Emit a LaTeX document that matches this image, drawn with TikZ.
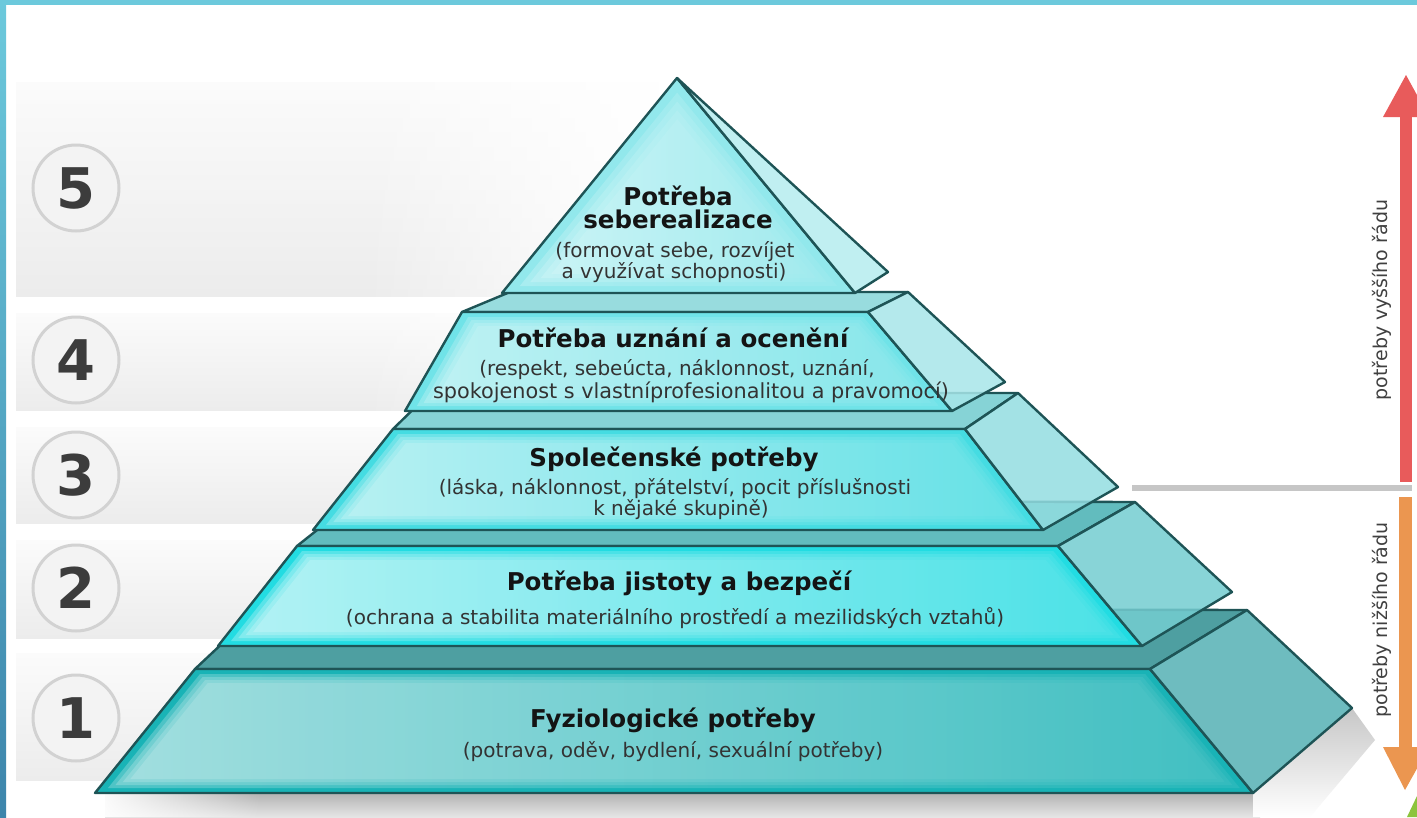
\documentclass[tikz,border=0pt]{standalone}
\usepackage{fontspec}
\setmainfont{DejaVu Sans}
\usetikzlibrary{fadings}
\definecolor{edgec}{HTML}{1E5456}
\definecolor{bandtop}{HTML}{FBFBFB}
\definecolor{bandbot}{HTML}{ECECEC}
\definecolor{circgray}{HTML}{D2D2D2}
\definecolor{circfill}{HTML}{F3F3F3}
\definecolor{numgray}{HTML}{3C3C3C}
\definecolor{bluebar}{HTML}{6CC9DC}
\definecolor{bluedark}{HTML}{3D85AB}
\definecolor{redarrow}{HTML}{E85B5B}
\definecolor{orarrow}{HTML}{EB9650}
\definecolor{sepgray}{HTML}{C6C6C6}
\definecolor{greenc}{HTML}{8CC43C}
\definecolor{baseA}{HTML}{19B3B6}\definecolor{glowA}{HTML}{CDEDED}\definecolor{topA}{HTML}{4E9FA1}\definecolor{sideA}{HTML}{5FB5B9}
\definecolor{baseB}{HTML}{22DCE2}\definecolor{glowB}{HTML}{E0FAFB}\definecolor{topB}{HTML}{62BCBE}\definecolor{sideB}{HTML}{74CDD1}
\definecolor{baseC}{HTML}{45DCE2}\definecolor{glowC}{HTML}{DCF8F9}\definecolor{topC}{HTML}{86D3D6}\definecolor{sideC}{HTML}{93DDE1}
\definecolor{baseD}{HTML}{70E3E8}\definecolor{glowD}{HTML}{D8F7F8}\definecolor{topD}{HTML}{98DCDE}\definecolor{sideD}{HTML}{A8E6E9}
\definecolor{baseE}{HTML}{92E8EC}\definecolor{glowE}{HTML}{DDF9FA}\definecolor{sideE}{HTML}{B5EDEF}
\tikzset{
  edge/.style={draw=edgec,line width=2.4pt,line join=round},
  numc/.style={circle,minimum size=86pt,draw=circgray,line width=3pt,fill=circfill,
    font=\fontsize{56}{56}\selectfont\bfseries,text=numgray,inner sep=0pt},
  ttl/.style={anchor=base,font=\fontsize{24.5}{28}\selectfont\bfseries,text=black!92,inner sep=0pt},
  sub/.style={anchor=base,font=\fontsize{20}{23}\selectfont,text=black!80,inner sep=0pt},
  side/.style={anchor=center,font=\fontsize{19}{21}\selectfont,text=black!75,rotate=90,inner sep=0pt}
}
% trapezoid front face with inner glow: TLx TRx Ty BLx BRx By base glow
\newcommand\glowtrap[8]{%
  \fill[#7] (#1,#3) -- (#2,#3) -- (#5,#6) -- (#4,#6) -- cycle;
  \foreach \dy/\dx in {5/9,8/14,11/19,14/24}{%
    \pgfmathsetmacro\ya{#3+\dy}\pgfmathsetmacro\yb{#6-\dy}%
    \pgfmathsetmacro\xa{#1+(#4-#1)*\dy/(#6-#3)+\dx}%
    \pgfmathsetmacro\xb{#2+(#5-#2)*\dy/(#6-#3)-\dx}%
    \pgfmathsetmacro\xc{#2+(#5-#2)*(#6-#3-\dy)/(#6-#3)-\dx}%
    \pgfmathsetmacro\xd{#1+(#4-#1)*(#6-#3-\dy)/(#6-#3)+\dx}%
    \shade[left color=#8, right color=#8!30!#7, fill opacity=0.3] (\xa,\ya) -- (\xb,\ya) -- (\xc,\yb) -- (\xd,\yb) -- cycle;
  }%
  \draw[edge] (#1,#3) -- (#2,#3) -- (#5,#6) -- (#4,#6) -- cycle;
}
\begin{document}
\begin{tikzpicture}[x=1pt,y=-1pt]
\useasboundingbox (0,0) rectangle (1417,817);
\fill[white] (0,0) rectangle (1417,817);
% background bands
\foreach \a/\b in {82/296,313/410,427/523,540/638,653/780}
  \shade[top color=bandtop,bottom color=bandbot] (16,\a) rectangle (1417,\b);
\fill[white,path fading=west] (360,60) rectangle (660,800);
\fill[white] (659,60) rectangle (1417,800);
% blue frame
\fill[bluebar] (0,0) rectangle (1417,5);
\shade[top color=bluebar,bottom color=bluedark] (0,0) rectangle (6,817);
% number circles
\foreach \n/\y in {5/188,4/360,3/475,2/588,1/718}
  \node[numc] (c\n) at (76,\y) {\n};
% shadow
\shade[top color=black!30,bottom color=black!10] (105,793) rectangle (1260,817);
\fill[white,path fading=east] (95,790) rectangle (260,817);
\shade[top color=black!22,bottom color=white] (1253,793) -- (1352,708) -- (1375,740) -- (1310,817) -- (1253,817) -- cycle;
% ---- layer 1
\filldraw[fill=topA,edge] (195,669) -- (1150,669) -- (1247,610) -- (260,608) -- cycle;
\glowtrap{195}{1150}{669}{95}{1253}{793}{baseA}{glowA}
\filldraw[fill=sideA,fill opacity=0.9,edge] (1150,669) -- (1253,793) -- (1352,708) -- (1247,610) -- cycle;
% ---- layer 2
\filldraw[fill=topB,edge] (297,546) -- (1058,546) -- (1135,502) -- (355,500) -- cycle;
\glowtrap{297}{1058}{546}{218}{1142}{646}{baseB}{glowB}
\filldraw[fill=sideB,fill opacity=0.85,edge] (1058,546) -- (1142,646) -- (1232,592) -- (1135,502) -- cycle;
% ---- layer 3
\filldraw[fill=topC,edge] (393,429) -- (965,429) -- (1018,393) -- (430,393) -- cycle;
\glowtrap{393}{965}{429}{313}{1043}{530}{baseC}{glowC}
\filldraw[fill=sideC,fill opacity=0.85,edge] (965,429) -- (1043,530) -- (1118,487) -- (1018,393) -- cycle;
% ---- layer 4
\filldraw[fill=topD,edge] (462,312) -- (868,312) -- (908,292) -- (510,292) -- cycle;
\glowtrap{462}{868}{312}{405}{952}{411}{baseD}{glowD}
\filldraw[fill=sideD,fill opacity=0.85,edge] (868,312) -- (952,411) -- (1005,382) -- (908,292) -- cycle;
% ---- layer 5
\fill[baseE] (677,78) -- (855,293) -- (502,293) -- cycle;
\foreach \s in {0.9,0.84,0.78,0.72}
  \shade[left color=glowE,right color=glowE!30!baseE,fill opacity=0.3,scale around={\s:(678,225)}] (677,78) -- (855,293) -- (502,293) -- cycle;
\draw[edge] (677,78) -- (855,293) -- (502,293) -- cycle;
\filldraw[fill=sideE,fill opacity=0.85,edge] (677,78) -- (888,272) -- (855,293) -- cycle;
% ---- texts
\node[ttl] (t5a) at (678,205) {Potřeba};
\node[ttl] (t5b) at (678,228) {seberealizace};
\node[sub] (s5a) at (675,257) {(formovat sebe, rozvíjet};
\node[sub] (s5b) at (674,278) {a využívat schopnosti)};
\node[ttl] (t4) at (673,347) {Potřeba uznání a ocenění};
\node[sub] (s4a) at (677,375) {(respekt, sebeúcta, náklonnost, uznání,};
\node[sub,font=\fontsize{20.8}{23}\selectfont] (s4b) at (691,398) {spokojenost s vlastníprofesionalitou a pravomocí)};
\node[ttl] (t3) at (674,466) {Společenské potřeby};
\node[sub] (s3a) at (675,494) {(láska, náklonnost, přátelství, pocit příslušnosti};
\node[sub] (s3b) at (681,515) {k nějaké skupině)};
\node[ttl] (t2) at (679,590) {Potřeba jistoty a bezpečí};
\node[sub] (s2) at (675,624) {(ochrana a stabilita materiálního prostředí a mezilidských vztahů)};
\node[ttl] (t1) at (673,727) {Fyziologické potřeby};
\node[sub] (s1) at (673,757) {(potrava, oděv, bydlení, sexuální potřeby)};
% ---- right arrows
\fill[redarrow] (1400,115) rectangle (1412,482);
\fill[redarrow] (1383,117) -- (1429,117) -- (1406,75) -- cycle;
\fill[sepgray] (1132,485) rectangle (1412,491);
\fill[orarrow] (1399,497) rectangle (1412,750);
\fill[orarrow] (1383,747) -- (1429,747) -- (1405,790) -- cycle;
\node[side] (hi) at (1382,300) {potřeby vyššího řádu};
\node[side] (lo) at (1382,620) {potřeby nižšího řádu};
\fill[greenc] (1407,817) -- (1417,796) -- (1417,817) -- cycle;
\end{tikzpicture}
\end{document}
